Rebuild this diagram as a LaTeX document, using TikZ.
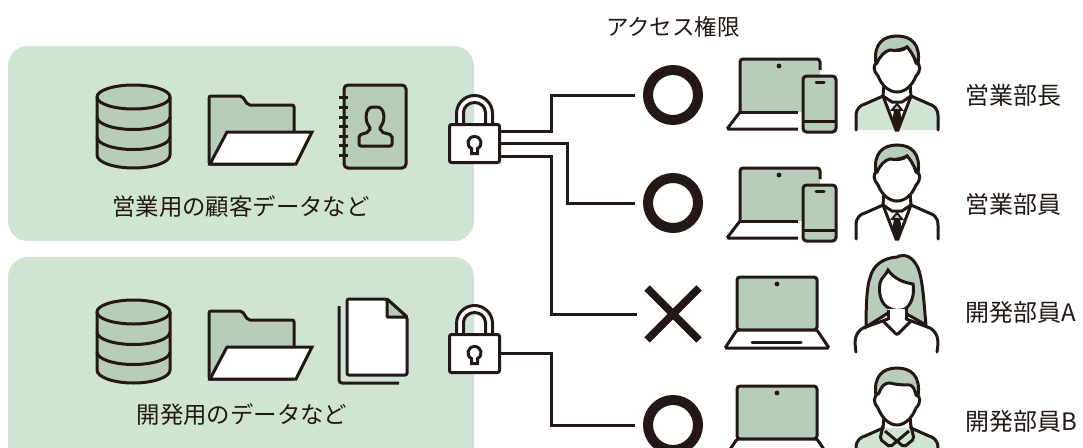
\documentclass[tikz,border=0pt]{standalone}
\usepackage{fontspec}
\setmainfont{Noto Sans CJK JP}
\definecolor{ink}{HTML}{231815}
\definecolor{panelgreen}{HTML}{D0E4D3}
\definecolor{icongreen}{HTML}{B8CCBC}
\tikzset{
  x=1pt,y=-1pt,
  line join=round,
  outline/.style={draw=ink,line width=3pt},
  panel/.style={fill=panelgreen,rounded corners=20pt},
  link/.style={draw=ink,line width=3pt},
  lockbody/.style={draw=ink,fill=white,line width=3pt,rounded corners=2pt,minimum width=50pt,minimum height=38pt,inner sep=0pt},
  okmark/.style={circle,draw=ink,line width=10pt,minimum size=50pt,inner sep=0pt,outer sep=13pt},
  ngmark/.style={rectangle,minimum size=52pt,inner sep=0pt,outer sep=0pt},
  ngstroke/.style={draw=ink,line width=7.5pt},
  captext/.style={font=\fontsize{23.4}{23.4}\selectfont,text=ink,inner sep=0pt},
  headtext/.style={font=\fontsize{22.5}{22.5}\selectfont,text=ink,inner sep=0pt},
  role/.style={font=\fontsize{24}{24}\selectfont,text=ink,inner sep=0pt,anchor=west},
  pics/database/.style={code={
    \path[fill=icongreen] (-36.5,0) -- (-36.5,58) arc[start angle=180,end angle=0,x radius=36.5,y radius=13] -- (36.5,0) arc[start angle=0,end angle=-180,x radius=36.5,y radius=12] -- cycle;
    \draw[outline] (0,0) ellipse[x radius=36.5,y radius=12];
    \draw[outline] (-36.5,0) -- (-36.5,58) arc[start angle=180,end angle=0,x radius=36.5,y radius=13] -- (36.5,0);
    \draw[outline] (-36.5,20) arc[start angle=180,end angle=0,x radius=36.5,y radius=12.5];
    \draw[outline] (-36.5,40) arc[start angle=180,end angle=0,x radius=36.5,y radius=12.5];
  }},
  pics/folder/.style={code={
    \path[fill=icongreen,draw=ink,line width=3pt,rounded corners=2pt] (0,68) -- (0,0) -- (33,0) -- (39,9) -- (85,9) -- (85,40) -- (85,68) -- cycle;
    \path[fill=white,draw=ink,line width=3pt] (18,36) -- (103,36) -- (87,68) -- (1,68) -- cycle;
  }},
  pics/addressbook/.style={code={
    \path[fill=icongreen,draw=ink,line width=3pt,rounded corners=4pt] (0,0) rectangle (62,83);
    \foreach \ry in {12,22,32,41,51,60,70} \draw[ink,line width=3pt] (-5,\ry) -- (4,\ry);
    \draw[outline,rounded corners=2pt] (15,61) -- (15,50) -- (25,47) .. controls (25,44) and (27,45) .. (25,41)
      .. controls (21,35) and (21,22) .. (31,22) .. controls (41,22) and (41,35) .. (37,41)
      .. controls (35,45) and (37,44) .. (37,47) -- (48,50) -- (48,61) -- cycle;
  }},
  pics/pages/.style={code={
    \draw[outline,rounded corners=3pt] (0,7) -- (0,84) -- (60,84);
    \path[fill=white,draw=ink,line width=3pt,rounded corners=2pt] (8,0) -- (48,0) -- (68,18) -- (68,76) -- (8,76) -- cycle;
    \path[fill=icongreen,draw=ink,line width=3pt,rounded corners=1pt] (48,0) -- (48,18) -- (68,18) -- cycle;
  }},
  pics/shackle/.style={code={
    \path[fill=white,even odd rule] (-18,-18) -- (-18,-30) arc[start angle=180,end angle=360,x radius=18,y radius=18] -- (18,-18) -- cycle
      (-11,-18) -- (-11,-31) arc[start angle=180,end angle=360,x radius=11,y radius=10] -- (11,-18) -- cycle;
    \draw[outline] (-18,-20) -- (-18,-30) arc[start angle=180,end angle=360,x radius=18,y radius=18] -- (18,-20);
    \draw[outline] (-11,-20) -- (-11,-31) arc[start angle=180,end angle=360,x radius=11,y radius=10] -- (11,-20);
  }},
  pics/keyhole/.style={code={
    \draw[outline] (-3,5) .. controls (-9,2) and (-7,-7) .. (0,-7) .. controls (7,-7) and (9,2) .. (3,5) -- (3,10) -- (-3,10) -- cycle;
  }},
  pics/combo/.style={code={
    % laptop with a phone in front of it
    \path[fill=icongreen] (0,0) rectangle (80,53);
    \draw[outline,rounded corners=3pt] (0,53) -- (0,0) -- (80,0) -- (80,11);
    \draw[outline] (0,53) -- (58,53);
    \draw[outline,rounded corners=1.5pt] (0,53) -- (-13,70) -- (58,70);
    \fill[ink] (39,7) circle[radius=2.4pt];
    \fill[white] (58,54.5) rectangle (63,68.5);
    \path[fill=icongreen,draw=ink,line width=3pt,rounded corners=3.5pt] (63,17) rectangle (96,73);
    \draw[outline] (63,62) -- (96,62);
    \draw[ink,line width=3pt,line cap=round] (76,23) -- (84,23);
  }},
  pics/laptop/.style={code={
    \path[fill=icongreen,draw=ink,line width=3pt,rounded corners=3pt] (0,53) -- (0,0) -- (80,0) -- (80,53) -- cycle;
    \path[fill=white,draw=ink,line width=3pt,rounded corners=1.5pt] (0,53) -- (-12,71) -- (92,71) -- (80,53) -- cycle;
    \fill[ink] (40,7) circle[radius=2.4pt];
    \draw[ink,line width=3pt,line cap=round] (15,65) -- (64,65);
  }},
  pics/man/.style={code={
    % jacket
    \path[fill=#1] (-42,94) -- (-42,80) .. controls (-42,72) and (-36,69) .. (-32,68) -- (-14,60) -- (0,94) -- (14,60) -- (32,68) .. controls (36,69) and (42,72) .. (42,80) -- (42,94) -- cycle;
    \draw[outline,line cap=round] (-41,94) -- (-41,80) .. controls (-41,72) and (-36,69) .. (-32,68) -- (-14,60) -- (-13,48);
    \draw[outline,line cap=round] (41,94) -- (41,80) .. controls (41,72) and (36,69) .. (32,68) -- (14,60) -- (13,48);
    \draw[outline,line cap=round] (-14,60) -- (-1,94) -- (1,94) -- (14,60);
    \draw[outline] (-14,60) -- (-5,66) -- (5,66) -- (14,60);
    % tie
    \path[fill=ink] (-3,74) -- (3,74) -- (5,86) -- (0,94) -- (-5,86) -- cycle;
    \path[fill=icongreen,draw=ink,line width=2pt] (0,68) -- (5,74) -- (-5,74) -- cycle;
    % hair and face
    \path[fill=icongreen,draw=ink,line width=3pt] (-21,28) .. controls (-24,8) and (-14,0) .. (0,0) .. controls (14,0) and (24,8) .. (21,28) -- (10,11) .. controls (2,16) and (-12,12) .. (-21,28) -- cycle;
    \path[fill=white,draw=ink,line width=3pt] (-20,27) .. controls (-17,20) and (-12,15) .. (-7,14) .. controls (0,15) and (6,15) .. (10,11) .. controls (13,14) and (17,20) .. (19,27)
      .. controls (24,28) and (24,35) .. (19,40) .. controls (15,50) and (8,56) .. (0,56) .. controls (-8,56) and (-15,50) .. (-19,40) .. controls (-24,35) and (-24,28) .. (-20,27) -- cycle;
  }},
  pics/mancollar/.style={code={
    \path[fill=panelgreen] (-42,94) -- (-42,80) .. controls (-42,72) and (-36,69) .. (-32,68) -- (-14,60) -- (14,60) -- (32,68) .. controls (36,69) and (42,72) .. (42,80) -- (42,94) -- cycle;
    \draw[outline,line cap=round] (-41,94) -- (-41,80) .. controls (-41,72) and (-36,69) .. (-32,68) -- (-14,60) -- (-13,48);
    \draw[outline,line cap=round] (41,94) -- (41,80) .. controls (41,72) and (36,69) .. (32,68) -- (14,60) -- (13,48);
    \draw[outline,rounded corners=2pt] (-14,58) -- (-17,71) -- (-7,79) -- (12,63);
    \draw[outline,rounded corners=2pt] (14,58) -- (17,71) -- (7,79) -- (-12,63);
    \path[fill=icongreen,draw=ink,line width=3pt] (-21,28) .. controls (-24,8) and (-14,0) .. (0,0) .. controls (14,0) and (24,8) .. (21,28) -- (18,25) .. controls (15,16) and (-14,12) .. (-17,25) -- cycle;
    \path[fill=white,draw=ink,line width=3pt] (-18,25) .. controls (-15,17) and (-12,15) .. (-7,15) .. controls (0,17) and (8,17) .. (13,17) .. controls (16,18) and (18,22) .. (19,27)
      .. controls (24,28) and (24,35) .. (19,40) .. controls (15,50) and (8,57) .. (0,57) .. controls (-8,57) and (-15,50) .. (-19,40) .. controls (-24,35) and (-24,28) .. (-18,25) -- cycle;
  }},
  pics/woman/.style={code={
    \path[fill=icongreen,draw=ink,line width=3pt] (-31,82) .. controls (-31,60) and (-30,40) .. (-27,33) .. controls (-24,20) and (-14,13) .. (0,12) .. controls (8,8) and (16,12) .. (21,23) .. controls (26,35) and (27,60) .. (29,80) -- (8,68) -- (-9,68) -- cycle;
    \path[fill=white,draw=ink,line width=3pt] (-9,25) .. controls (-11,30) and (-16,33) .. (-17,38) .. controls (-19,50) and (-15,60) .. (-8,63) .. controls (-4,66) and (4,66) .. (8,64) .. controls (14,60) and (18,50) .. (16,39) .. controls (8,38) and (-3,34) .. (-9,25) -- cycle;
    \path[fill=white] (-9,64) -- (-9,75) -- (0,89) -- (9,75) -- (9,64) -- cycle;
    \draw[outline] (-9,65) -- (-9,75);
    \draw[outline] (9,64) -- (9,75);
    \draw[outline,line cap=round,rounded corners=2pt] (-14,76) -- (0,90) -- (14,76);
    \draw[outline,line cap=round] (-41,107) .. controls (-43,95) and (-42,88) .. (-34,83) -- (-9,74);
    \draw[outline,line cap=round] (40,107) .. controls (42,95) and (41,88) .. (33,83) -- (9,74);
  }}
}
\begin{document}
\begin{tikzpicture}
\fill[white] (0,0) rectangle (1083,447);
\clip (0,0) rectangle (1083,447);

% data zones
\path[panel] (8,46) rectangle (474,241);
\path[panel] (8,257) rectangle (474,480);

% sales data icons
\pic at (133.5,97) {database};
\pic at (209,96) {folder};
\pic at (344,85) {addressbook};
\node[captext] (salesdata) at (241,207) {営業用の顧客データなど};

% development data icons
\pic at (133.5,312) {database};
\pic at (209,311) {folder};
\pic at (339,299) {pages};
\node[captext] (devdata) at (242,415) {開発用のデータなど};

% locks
\pic at (474.5,143.5) {shackle};
\node[lockbody] (lockA) at (474.5,143.5) {};
\pic at (474.5,143.5) {keyhole};
\pic at (474.5,353.5) {shackle};
\node[lockbody] (lockB) at (474.5,353.5) {};
\pic at (474.5,353.5) {keyhole};

% access marks
\node[headtext] (access) at (673,27) {アクセス権限};
\node[okmark] (markA) at (673,95) {};
\node[okmark] (markB) at (673,203) {};
\node[ngmark] (markC) at (673,314) {};
\draw[ngstroke] (markC.north west) -- (markC.south east);
\draw[ngstroke] (markC.north east) -- (markC.south west);
\node[okmark] (markD) at (673,425) {};

% access routes
\draw[link] ([yshift=12.5pt]lockA.east) -| (551,95) -- (markA.west);
\draw[link] (lockA.east) -| (567,203) -- (markB.west);
\draw[link] ([yshift=-12.5pt]lockA.east) -| (551,314) -- ([xshift=-10pt]markC.west);
\draw[link] (lockB.east) -| (551,425) -- (markD.west);

% devices
\pic at (740,59) {combo};
\pic at (740,168) {combo};
\pic at (737,277) {laptop};
\pic at (737,386) {laptop};

% people
\pic at (897,36) {man=panelgreen};
\pic at (897,145) {man=white};
\pic at (897,245) {woman};
\pic at (897,368) {mancollar};

% role names
\node[role] (roleA) at (965.5,95) {営業部長};
\node[role] (roleB) at (965.5,204) {営業部員};
\node[role] (roleC) at (965.5,312) {開発部員A};
\node[role] (roleD) at (965.5,421) {開発部員B};
\end{tikzpicture}
\end{document}
